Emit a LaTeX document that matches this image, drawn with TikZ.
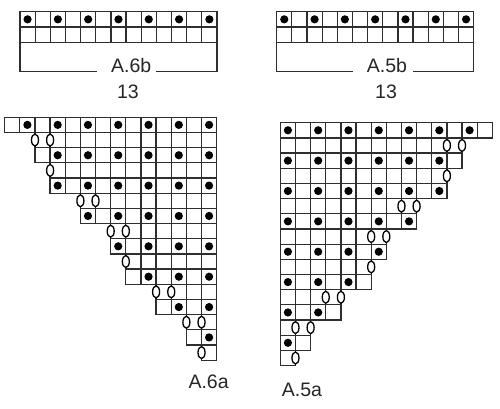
\documentclass[tikz,border=0pt]{standalone}
\usepackage{fontspec}
\setmainfont{Liberation Sans}
\tikzset{
  gridcell/.style={draw=black!82, line width=1.25pt},
  dotmark/.style={fill=black},
  yomark/.style={draw=black, line width=1.3pt, fill=white},
  lbl/.style={font=\fontsize{19.5}{22}\selectfont, inner sep=0pt, text=black!85},
  bracket/.style={draw=black!82, line width=1.3pt}
}
\newcommand\cw{15.14}
\newcommand\ch{15.18}
% triangular chart, left-stepped version (A.6a); mirrored for A.5a
\newcommand\tricharta{%
  \draw[gridcell]
    \foreach \r/\s in {1/0,2/2,3/2,4/3,5/3,6/5,7/5,8/7,9/7,10/8,11/8,12/10,13/10,14/12,15/12,16/13}{%
      \foreach \c in {\s,...,13}{%
        ({\c*\cw},{(\r-1)*\ch}) rectangle ++(\cw,\ch)
      }
    };
  \foreach \r/\s in {1/0,3/2,5/3,7/5,9/7,11/8,13/10,15/12}{%
    \foreach \c in {1,3,...,13}{%
      \ifnum\c<\s\relax\else
        \fill[dotmark] ({(\c+0.5)*\cw},{(\r-0.5)*\ch}) circle[radius=4.1pt];
      \fi
    }
  }
  \foreach \r/\b in {2/2,2/3,4/3,6/5,6/6,8/7,8/8,10/8,12/10,12/11,14/12,14/13,16/13}{%
    \draw[yomark] ({\b*\cw},{(\r-0.5)*\ch}) ellipse[x radius=3.5pt, y radius=6pt];
  }
}
% straight chart (A.6b / A.5b)
\newcommand\barchart{%
  \draw[gridcell]
    \foreach \r in {1,2}{%
      \foreach \c in {0,...,12}{%
        ({\c*15.15},{(\r-1)*15.3}) rectangle ++(15.15,15.3)
      }
    };
  \foreach \c in {0,2,...,12}{%
    \fill[dotmark] ({(\c+0.5)*15.15},{0.5*15.3}) circle[radius=4.1pt];
  }
}
\begin{document}
\begin{tikzpicture}[x=1pt,y=-1pt]
  \useasboundingbox[fill=white] (0,0) rectangle (500,409);

  % A.6b
  \begin{scope}[shift={(20,11.7)}]
    \barchart
  \end{scope}
  \coordinate (b6l) at (20,42.3);
  \coordinate (b6r) at (217,42.3);
  \draw[bracket] (b6l) -- (20,71.7) -- (96.7,71.7);
  \draw[bracket] (156,71.7) -- (217,71.7) -- (b6r);
  \node[lbl, anchor=base west] (l6b) at (111,72.7) {A.6b};
  \node[lbl, anchor=base] (n6b) at (128,98.3) {13};

  % A.5b
  \begin{scope}[shift={(276.7,11.7)}]
    \barchart
  \end{scope}
  \coordinate (b5l) at (276.7,42.3);
  \coordinate (b5r) at (473.3,42.3);
  \draw[bracket] (b5l) -- (276.7,71.7) -- (353.3,71.7);
  \draw[bracket] (413,71.7) -- (473.3,71.7) -- (b5r);
  \node[lbl, anchor=base west] (l5b) at (366.7,72.7) {A.5b};
  \node[lbl, anchor=base] (n5b) at (386,98.3) {13};

  % A.6a
  \begin{scope}[shift={(4.7,117.3)}]
    \tricharta
  \end{scope}
  \node[lbl, anchor=base west] (l6a) at (188.3,388.3) {A.6a};

  % A.5a (mirror image)
  \begin{scope}[shift={(492.3,122.7)}, xscale=-1]
    \tricharta
  \end{scope}
  \node[lbl, anchor=base west] (l5a) at (281.7,396.5) {A.5a};
\end{tikzpicture}
\end{document}
